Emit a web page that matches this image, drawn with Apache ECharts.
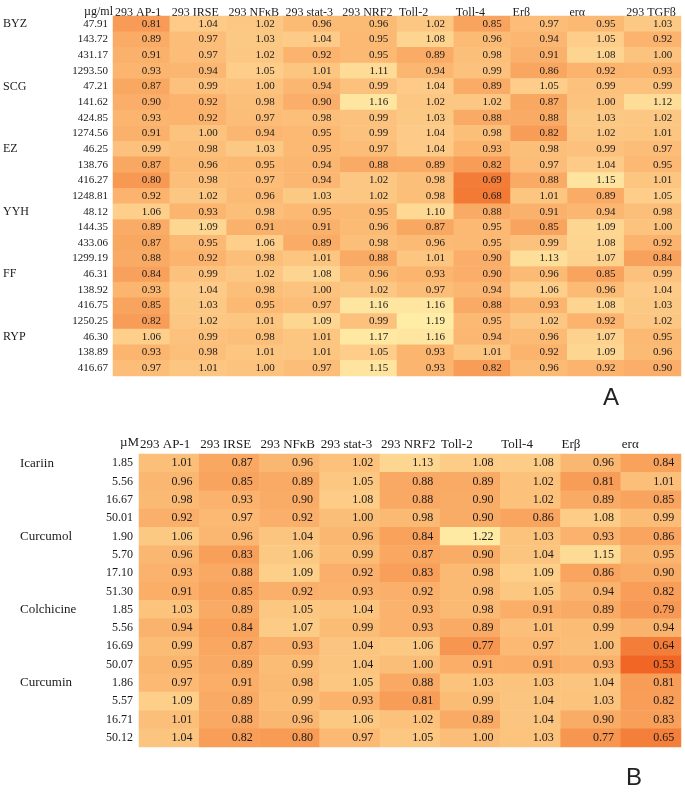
<!DOCTYPE html>
<html>
<head>
<meta charset="utf-8">
<script src="https://cdn.jsdelivr.net/npm/echarts@6/dist/echarts.min.js"></script>
<style>
html,body{margin:0;padding:0;background:#fff;}
#c{width:685px;height:792px;}
</style>
</head>
<body>
<div id="c"></div>
<script>
// ---------- Panel A ----------
var colsA = ['293 AP-1','293 IRSE','293 NFκB','293 stat-3','293 NRF2','Toll-2','Toll-4','Erβ','erα','293 TGFβ'];
var groupsA = ['BYZ','SCG','EZ','YYH','FF','RYP'];
var groupSizesA = [4,4,4,4,4,3];
var dosesA = ['47.91','143.72','431.17','1293.50','47.21','141.62','424.85','1274.56','46.25','138.76','416.27','1248.81','48.12','144.35','433.06','1299.19','46.31','138.92','416.75','1250.25','46.30','138.89','416.67'];
var valuesA = [
 [0.81,1.04,1.02,0.96,0.96,1.02,0.85,0.97,0.95,1.03],
 [0.89,0.97,1.03,1.04,0.95,1.08,0.96,0.94,1.05,0.92],
 [0.91,0.97,1.02,0.92,0.95,0.89,0.98,0.91,1.08,1.00],
 [0.93,0.94,1.05,1.01,1.11,0.94,0.99,0.86,0.92,0.93],
 [0.87,0.99,1.00,0.94,0.99,1.04,0.89,1.05,0.99,0.99],
 [0.90,0.92,0.98,0.90,1.16,1.02,1.02,0.87,1.00,1.12],
 [0.93,0.92,0.97,0.98,0.99,1.03,0.88,0.88,1.03,1.02],
 [0.91,1.00,0.94,0.95,0.99,1.04,0.98,0.82,1.02,1.01],
 [0.99,0.98,1.03,0.95,0.97,1.04,0.93,0.98,0.99,0.97],
 [0.87,0.96,0.95,0.94,0.88,0.89,0.82,0.97,1.04,0.95],
 [0.80,0.98,0.97,0.94,1.02,0.98,0.69,0.88,1.15,1.01],
 [0.92,1.02,0.96,1.03,1.02,0.98,0.68,1.01,0.89,1.05],
 [1.06,0.93,0.98,0.95,0.95,1.10,0.88,0.91,0.94,0.98],
 [0.89,1.09,0.91,0.91,0.96,0.87,0.95,0.85,1.09,1.00],
 [0.87,0.95,1.06,0.89,0.98,0.96,0.95,0.99,1.08,0.92],
 [0.88,0.92,0.98,1.01,0.88,1.01,0.90,1.13,1.07,0.84],
 [0.84,0.99,1.02,1.08,0.96,0.93,0.90,0.96,0.85,0.99],
 [0.93,1.04,0.98,1.00,1.02,0.97,0.94,1.06,0.96,1.04],
 [0.85,1.03,0.95,0.97,1.16,1.16,0.88,0.93,1.08,1.03],
 [0.82,1.02,1.01,1.09,0.99,1.19,0.95,1.02,0.92,1.02],
 [1.06,0.99,0.98,1.01,1.17,1.16,0.94,0.96,1.07,0.95],
 [0.93,0.98,1.01,1.01,1.05,0.93,1.01,0.92,1.09,0.96],
 [0.97,1.01,1.00,0.97,1.15,0.93,0.82,0.96,0.92,0.90]
];
var unitA = 'µg/ml';

// ---------- Panel B ----------
var colsB = ['293 AP-1','293 IRSE','293 NFκB','293 stat-3','293 NRF2','Toll-2','Toll-4','Erβ','erα'];
var groupsB = ['Icariin','Curcumol','Colchicine','Curcumin'];
var groupSizesB = [4,4,4,4];
var dosesB = ['1.85','5.56','16.67','50.01','1.90','5.70','17.10','51.30','1.85','5.56','16.69','50.07','1.86','5.57','16.71','50.12'];
var valuesB = [
 [1.01,0.87,0.96,1.02,1.13,1.08,1.08,0.96,0.84],
 [0.96,0.85,0.89,1.05,0.88,0.89,1.02,0.81,1.01],
 [0.98,0.93,0.90,1.08,0.88,0.90,1.02,0.89,0.85],
 [0.92,0.97,0.92,1.00,0.98,0.90,0.86,1.08,0.99],
 [1.06,0.96,1.04,0.96,0.84,1.22,1.03,0.93,0.86],
 [0.96,0.83,1.06,0.99,0.87,0.90,1.04,1.15,0.95],
 [0.93,0.88,1.09,0.92,0.83,0.98,1.09,0.86,0.90],
 [0.91,0.85,0.92,0.93,0.92,0.98,1.05,0.94,0.82],
 [1.03,0.89,1.05,1.04,0.93,0.98,0.91,0.89,0.79],
 [0.94,0.84,1.07,0.99,0.93,0.89,1.01,0.99,0.94],
 [0.99,0.87,0.93,1.04,1.06,0.77,0.97,1.00,0.64],
 [0.95,0.89,0.99,1.04,1.00,0.91,0.91,0.93,0.53],
 [0.97,0.91,0.98,1.05,0.88,1.03,1.03,1.04,0.81],
 [1.09,0.89,0.99,0.93,0.81,0.99,1.04,1.03,0.82],
 [1.01,0.88,0.96,1.06,1.02,0.89,1.04,0.90,0.83],
 [1.04,0.82,0.80,0.97,1.05,1.00,1.03,0.77,0.65]
];
var unitB = 'µM';

function groupLabels(groups, sizes){
  var out = [];
  groups.forEach(function(g,i){
    for (var k=0;k<sizes[i];k++) out.push(k===0 ? g : '');
  });
  return out;
}
function toCells(vals){
  var d = [];
  vals.forEach(function(row, r){
    row.forEach(function(v, c){ d.push([c, r, v]); });
  });
  return d;
}

var serif = '"Liberation Serif","Times New Roman",serif';
var txt = '#1a1a1a';

var chart = echarts.init(document.getElementById('c'), null, {renderer:'canvas'});

function makeAxes(gi, cols, doses, groups, sizes, unit, opt){
  var x = [
    {type:'category', gridIndex:gi, data:cols, show:false},
    {type:'category', gridIndex:gi, data:cols.concat(['']), position:'top', boundaryGap:false,
     axisLine:{show:false}, axisTick:{show:false}, splitLine:{show:false},
     axisLabel:{interval:0, align:'left', margin:opt.headMargin, padding:[0,0,0,opt.headPad], fontFamily:serif, fontSize:opt.headSize, color:txt}}
  ];
  var y = [
    {type:'category', gridIndex:gi, data:doses, inverse:true,
     axisLine:{show:false}, axisTick:{show:false}, splitLine:{show:false},
     name:unit, nameLocation:'start', nameGap:opt.nameGap, nameMoveOverlap:false,
     nameTextStyle:{fontFamily:serif, fontSize:opt.unitSize, color:txt, align:'right', verticalAlign:'middle', padding:[0,0,0,0]},
     axisLabel:{interval:0, margin:opt.doseMargin, fontFamily:serif, fontSize:opt.doseSize, color:txt}},
    {type:'category', gridIndex:gi, data:groupLabels(groups, sizes), inverse:true, position:'left',
     axisLine:{show:false}, axisTick:{show:false}, splitLine:{show:false},
     axisLabel:{interval:0, align:'left', margin:opt.groupMargin, fontFamily:serif, fontSize:opt.groupSize, color:txt}}
  ];
  return {x:x, y:y};
}

var axA = makeAxes(0, colsA, dosesA, groupsA, groupSizesA, unitA,
  {headMargin:-3, headSize:12, headPad:2, unitSize:12, nameGap:4, doseMargin:5, doseSize:11, groupMargin:110, groupSize:12});
var axB = makeAxes(1, colsB, dosesB, groupsB, groupSizesB, unitB,
  {headMargin:3, headSize:13, headPad:1, unitSize:13, nameGap:11, doseMargin:6, doseSize:12, groupMargin:119, groupSize:13});

var option = {
  backgroundColor:'#ffffff',
  animation:false,
  title:[
    {text:'A', left:603, top:386, padding:0, textStyle:{fontFamily:'"Liberation Sans",Arial,sans-serif', fontSize:24, fontWeight:'normal', color:'#222'}},
    {text:'B', left:626, top:766, padding:0, textStyle:{fontFamily:'"Liberation Sans",Arial,sans-serif', fontSize:24, fontWeight:'normal', color:'#222'}}
  ],
  grid:[
    {left:113, right:4, top:16, height:360, containLabel:false, outerBoundsMode:'none'},
    {left:139, right:4, top:454, height:293, containLabel:false, outerBoundsMode:'none'}
  ],
  xAxis: axA.x.concat(axB.x.map(function(a){ return Object.assign({}, a, {gridIndex:1}); })),
  yAxis: axA.y.concat(axB.y.map(function(a){ return Object.assign({}, a, {gridIndex:1}); })),
  visualMap:[
    {type:'continuous', show:false, seriesIndex:0, min:0.68, max:1.19, dimension:2,
     inRange:{color:['#F37A35','#F79A55','#FBB670','#FDD08C','#FFEDA6']}},
    {type:'continuous', show:false, seriesIndex:1, min:0.53, max:1.22, dimension:2,
     inRange:{color:['#F26625','#F58A45','#F9A862','#FCC680','#FFEAA3']}}
  ],
  series:[
    {type:'heatmap', xAxisIndex:0, yAxisIndex:0, data:toCells(valuesA),
     itemStyle:{borderWidth:0},
     label:{show:true, position:'insideRight', distance:9, fontFamily:serif, fontSize:11, color:txt,
       formatter:function(p){ return p.value[2].toFixed(2); }},
     emphasis:{disabled:true}},
    {type:'heatmap', xAxisIndex:2, yAxisIndex:2, data:toCells(valuesB),
     itemStyle:{borderWidth:0},
     label:{show:true, position:'insideRight', distance:7, fontFamily:serif, fontSize:12, color:txt,
       formatter:function(p){ return p.value[2].toFixed(2); }},
     emphasis:{disabled:true}}
  ]
};
chart.setOption(option);
</script>
</body>
</html>
